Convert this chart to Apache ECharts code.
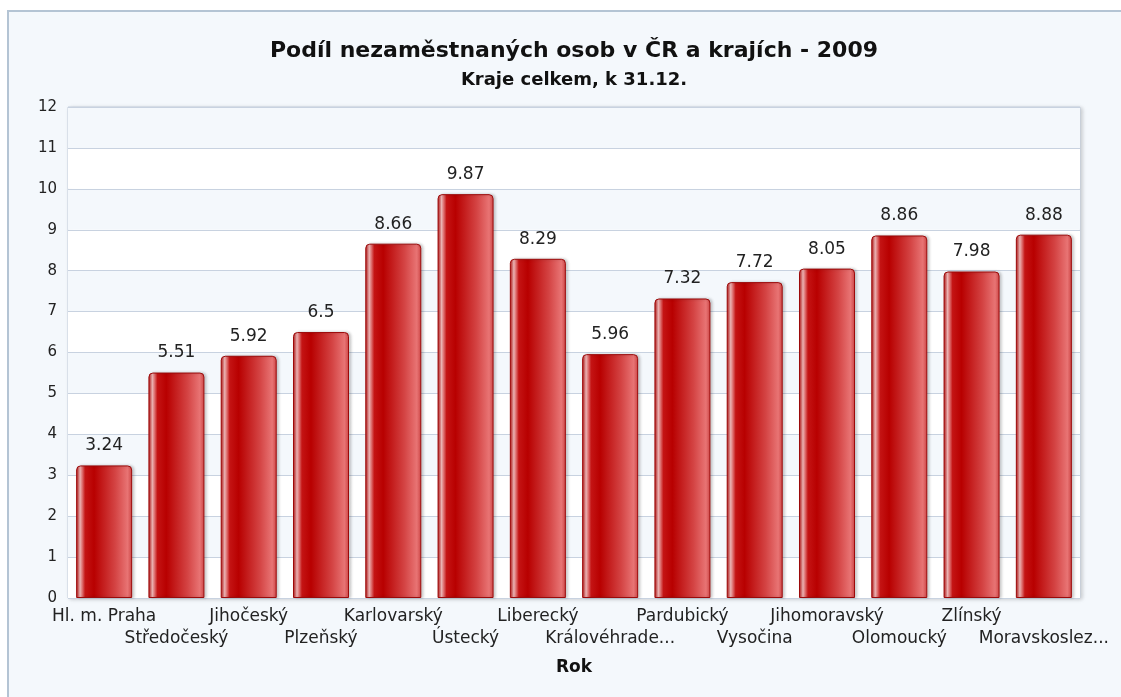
<!DOCTYPE html>
<html>
<head>
<meta charset="utf-8">
<script src="https://cdn.jsdelivr.net/npm/echarts@6/dist/echarts.min.js"></script>
<style>
  html, body { margin: 0; padding: 0; background: #fff; }
  #frame {
    position: absolute; left: 7px; top: 10px; width: 1130px; height: 700px;
    background: #f4f8fc; border-left: 2px solid #b4c4d4; border-top: 2px solid #b4c4d4;
  }
  #chart { position: absolute; left: 0; top: 0; width: 1121px; height: 697px; }
</style>
</head>
<body>
<div id="frame"></div>
<div id="chart"></div>
<script>
const titleText = 'Podíl nezaměstnaných osob v ČR a krajích - 2009'
const subtitleText = 'Kraje celkem, k 31.12.'
const axisName = 'Rok'
const regions = ['Hl. m. Praha', 'Středočeský', 'Jihočeský', 'Plzeňský', 'Karlovarský', 'Ústecký', 'Liberecký',
    'Královéhradecký', 'Pardubický', 'Vysočina', 'Jihomoravský', 'Olomoucký', 'Zlínský', 'Moravskoslezský']
const rates = [3.24, 5.51, 5.92, 6.5, 8.66, 9.87, 8.29, 5.96, 7.32, 7.72, 8.05, 8.86, 7.98, 8.88]
const yTicks = [0, 12, 1]  // min, max, interval

const font = '"DejaVu Sans", Verdana, sans-serif'
const chart = echarts.init(document.getElementById('chart'))

// glossy red bars, highlight strip near the left edge
const barFill = new echarts.graphic.LinearGradient(0, 0, 1, 0, [
    { offset: 0, color: '#b00808' },
    { offset: 0.07, color: '#f2b8b8' },
    { offset: 0.16, color: '#c41414' },
    { offset: 0.32, color: '#b80000' },
    { offset: 0.7, color: '#d44444' },
    { offset: 0.92, color: '#e87474' },
    { offset: 1, color: '#cc4444' }
])

const option = {
    animation: false,
    textStyle: { fontFamily: font },
    graphic: [
        {
            type: 'text', x: 574, y: 51,
            style: { text: titleText, font: 'bold 22px ' + font, fill: '#111', textAlign: 'center', textVerticalAlign: 'middle' }
        },
        {
            type: 'text', x: 574, y: 80,
            style: { text: subtitleText, font: 'bold 18px ' + font, fill: '#111', textAlign: 'center', textVerticalAlign: 'middle' }
        }
    ],
    grid: {
        left: 68, top: 107, right: 41, bottom: 99,
        show: true, backgroundColor: '#fff',
        borderColor: '#c4cedc', borderWidth: 1,
        shadowColor: 'rgba(0,0,0,0.18)', shadowBlur: 4, shadowOffsetX: 2, shadowOffsetY: 1
    },
    xAxis: {
        type: 'category',
        data: regions,
        name: axisName,
        nameLocation: 'middle',
        nameGap: 61,
        nameTextStyle: { fontFamily: font, fontWeight: 'bold', fontSize: 17, color: '#111' },
        axisLine: { show: false },
        axisTick: { show: false },
        axisLabel: {
            interval: 0,
            margin: 8,
            fontSize: 17,
            lineHeight: 22,
            color: '#222',
            formatter: (v, i) => {
                const s = v.length > 13 ? v.slice(0, 12) + '...' : v
                return i % 2 ? '\n' + s : s
            }
        }
    },
    yAxis: {
        type: 'value',
        min: yTicks[0], max: yTicks[1], interval: yTicks[2],
        axisLine: { show: false },
        axisTick: { show: false },
        axisLabel: { fontSize: 15, color: '#222', margin: 11 },
        splitLine: { lineStyle: { color: '#c8d2e0', width: 1 } },
        splitArea: { show: true, areaStyle: { color: ['#ffffff', '#f4f8fc'] } }
    },
    series: [
        {
            type: 'bar',
            data: rates,
            barWidth: 56,
            itemStyle: {
                color: barFill,
                borderColor: '#9c0a0a',
                borderWidth: 1,
                borderRadius: [4, 4, 0, 0],
                shadowColor: 'rgba(0,0,0,0.2)', shadowBlur: 3, shadowOffsetX: 2
            },
            label: {
                show: true,
                position: 'top',
                distance: 11,
                fontSize: 17,
                color: '#222'
            }
        }
    ]
}
chart.setOption(option)
</script>
</body>
</html>
